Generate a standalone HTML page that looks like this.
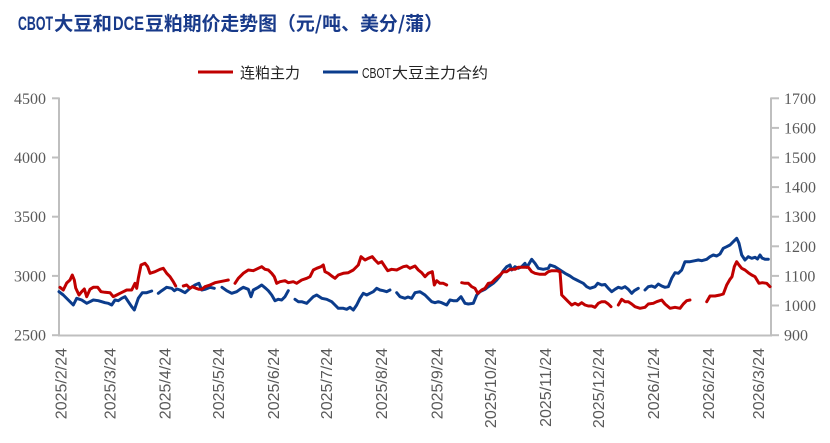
<!DOCTYPE html>
<html><head><meta charset="utf-8"><style>
html,body{margin:0;padding:0;background:#fff;}
svg{display:block;}
</style></head><body>
<svg width="830" height="443" viewBox="0 0 830 443" xmlns="http://www.w3.org/2000/svg">
<rect width="830" height="443" fill="#fff"/>
<!-- Title -->
<g fill="#183a8a" font-size="19">
<text x="18" y="30" font-family="Liberation Sans, sans-serif" font-weight="bold" textLength="35" lengthAdjust="spacingAndGlyphs">CBOT</text>
<text x="54" y="30" font-family="Liberation Sans, Noto Sans CJK SC, sans-serif" font-weight="bold" textLength="58" lengthAdjust="spacingAndGlyphs">大豆和</text>
<text x="113" y="30" font-family="Liberation Sans, sans-serif" font-weight="bold" textLength="31" lengthAdjust="spacingAndGlyphs">DCE</text>
<text x="145" y="30" font-family="Liberation Sans, Noto Sans CJK SC, sans-serif" font-weight="bold" textLength="132" lengthAdjust="spacingAndGlyphs">豆粕期价走势图</text>
<text x="277" y="30" font-family="Noto Sans CJK SC, sans-serif" font-weight="bold" textLength="166" lengthAdjust="spacingAndGlyphs">（元/吨、美分/蒲）</text>
</g>
<!-- Legend -->
<line x1="198" y1="72" x2="233" y2="72" stroke="#c00000" stroke-width="3"/>
<text x="240" y="78" font-size="15" fill="#222" font-family="Liberation Sans, Noto Sans CJK SC, sans-serif" textLength="60" lengthAdjust="spacingAndGlyphs">连粕主力</text>
<line x1="323" y1="72" x2="358" y2="72" stroke="#0b3c8c" stroke-width="3"/>
<text x="362" y="78" font-size="15" fill="#222" font-family="Liberation Sans, sans-serif" textLength="29" lengthAdjust="spacingAndGlyphs">CBOT</text>
<text x="392" y="78" font-size="15" fill="#222" font-family="Liberation Sans, Noto Sans CJK SC, sans-serif" textLength="96" lengthAdjust="spacingAndGlyphs">大豆主力合约</text>
<!-- Axes -->
<g stroke="#bfbfbf" stroke-width="2" fill="none">
<line x1="59" y1="97.5" x2="59" y2="336"/>
<line x1="771" y1="97.5" x2="771" y2="336"/>
<line x1="58" y1="335.5" x2="772" y2="335.5"/>
<line x1="52" y1="98.3" x2="59" y2="98.3"/>
<line x1="52" y1="157.5" x2="59" y2="157.5"/>
<line x1="52" y1="216.7" x2="59" y2="216.7"/>
<line x1="52" y1="275.9" x2="59" y2="275.9"/>
<line x1="52" y1="335.2" x2="59" y2="335.2"/>
<line x1="771" y1="98.3" x2="779" y2="98.3"/>
<line x1="771" y1="127.9" x2="779" y2="127.9"/>
<line x1="771" y1="157.5" x2="779" y2="157.5"/>
<line x1="771" y1="187.1" x2="779" y2="187.1"/>
<line x1="771" y1="216.7" x2="779" y2="216.7"/>
<line x1="771" y1="246.3" x2="779" y2="246.3"/>
<line x1="771" y1="275.9" x2="779" y2="275.9"/>
<line x1="771" y1="305.5" x2="779" y2="305.5"/>
<line x1="771" y1="335.2" x2="779" y2="335.2"/>
</g>
<!-- Left labels -->
<g font-family="Liberation Serif, serif" font-size="16" fill="#595959" text-anchor="end">
<text x="46" y="103.8">4500</text>
<text x="46" y="163">4000</text>
<text x="46" y="222.2">3500</text>
<text x="46" y="281.4">3000</text>
<text x="46" y="340.7">2500</text>
</g>
<g font-family="Liberation Serif, serif" font-size="16" fill="#595959">
<text x="784" y="103.8">1700</text>
<text x="784" y="133.4">1600</text>
<text x="784" y="163">1500</text>
<text x="784" y="192.6">1400</text>
<text x="784" y="222.2">1300</text>
<text x="784" y="251.8">1200</text>
<text x="784" y="281.4">1100</text>
<text x="784" y="311">1000</text>
<text x="784" y="340.7">900</text>
</g>
<!-- X labels -->
<g font-family="Liberation Sans, sans-serif" font-size="16" fill="#595959" text-anchor="end">
<text transform="translate(66.5,348) rotate(-90)">2025/2/24</text>
<text transform="translate(115.7,348) rotate(-90)">2025/3/24</text>
<text transform="translate(170.7,348) rotate(-90)">2025/4/24</text>
<text transform="translate(224,348) rotate(-90)">2025/5/24</text>
<text transform="translate(279,348) rotate(-90)">2025/6/24</text>
<text transform="translate(332,348) rotate(-90)">2025/7/24</text>
<text transform="translate(387,348) rotate(-90)">2025/8/24</text>
<text transform="translate(442.5,348) rotate(-90)">2025/9/24</text>
<text transform="translate(496,348) rotate(-90)">2025/10/24</text>
<text transform="translate(551,348) rotate(-90)">2025/11/24</text>
<text transform="translate(604,348) rotate(-90)">2025/12/24</text>
<text transform="translate(659,348) rotate(-90)">2026/1/24</text>
<text transform="translate(714,348) rotate(-90)">2026/2/24</text>
<text transform="translate(764,348) rotate(-90)">2026/3/24</text>
</g>
<!-- Blue series -->
<g fill="none" stroke="#0b3c8c" stroke-width="3" stroke-linejoin="round" stroke-linecap="round">
<polyline points="59,291.7 63.3,295 68.3,300 73.3,305 76.7,298.3 81.7,300 86.7,303.3 90,301.7 93.3,300 98.3,300.7 101.7,301.7 105,302.7 108.3,303.3 111.7,305 115,300 118.3,300.7 121.7,298.3 125,296.7 128.3,301.7 131.7,306.7 134.3,310 138.3,298.3 142.3,292.7 146.7,292.7 151.7,291"/>
<polyline points="158.3,293.3 161.7,290.7 166.7,287.3 171.7,288.3 174.3,290.7 177,289 180,290 185,292.7 190,288.3 195,285 199,283.3 201.7,290 205,289.3 210,287.3 214.3,288.3"/>
<polyline points="222,287.3 226.7,290.7 231.7,293.3 236.7,291.7 240,289.3 243.3,287.3 248.3,289.3 251,296.7 253.3,290 258.3,287.3 261.7,285 265.7,288.3 268.3,290.7 271.7,295 275,300.7 278.3,299.3 281.7,300 285,296.7 288.3,290.7"/>
<polyline points="295,299.3 298.3,301.7 301.7,301.7 306.7,303.3 310,300 313.3,296.7 316.7,295 321.7,298.3 326.7,299.3 331.7,301.7 335,305 338.3,308.3 343.3,308.3 346.7,309.3 350,307.3 353.3,310 356.7,305 360,298.3 363.3,293.3 366.7,295 370,293.3 373.3,291.7 376.7,288.3 380,290 383.3,290.7 386.7,291.7 390,290"/>
<polyline points="396.7,292.7 400,296.7 405,298.3 408,297 411.7,298.3 415,292.7 420,291.7 425,295 428.3,298.3 431.7,301.7 435,302.7 438.3,301.7 441.7,302.7 446.7,305 450,300 453.3,300.7 457,300.7 461,296.7 465,303.3 468.3,304 473.3,303.3 476.7,295 480,291.7 485,289.3 488.3,286.7 493.3,283.3 496.7,280 500,276 503.3,270.7 506.7,266.7 510,265 511.7,270 515,266.7 518.3,268.3 521.7,266.7 525,263.3 526.7,267.3 528.3,265 531.7,259.3 535,263.3 538.3,268.3 543.3,269.3 548.3,268.3 550,265 555,266.7 560,270 565,273.3 570,276 573.3,278.3 576.7,280 580,281.7 583.3,283.3 586.7,286.7 590,288.3 595,286.7 597.7,283.3 601.7,285 605,284.5 608.3,288.3 611.7,291.7 615,289.3 618.3,287.3 621.7,288.3 625,286.7 628.3,289.3 631.7,293.3 634.3,290.7 638.3,288.3"/>
<polyline points="645,290 648.3,286.7 651.7,286 655,287.3 658.3,284 661.7,286 665,287.3 668.3,286.7 671.7,278.3 675,272.7 678.3,273.3 681.7,270 685,261.7 690,261.7 695,260.7 698.3,260 701.7,260.7 706.7,259.3 710,256.7 713.3,255 716.7,256 720,254 723.3,248.3 726.7,246.7 730,245 733.3,241.7 736.7,238.3 739,243.3 741.7,255 745,260 748.3,256.7 751.7,258.3 755,257.3 757.5,259 760,255 762,258 765,259.3 768.3,259.3"/>
</g>
<!-- Red series -->
<g fill="none" stroke="#c00000" stroke-width="3" stroke-linejoin="round" stroke-linecap="round">
<polyline points="60,287.3 63.3,290 66.7,283 70,280 72.3,275 74.3,280 75.7,288 79,295 81.7,291.7 84.3,289 86.7,296.7 90,289.3 93.3,287.3 97.7,287.3 101,291.7 105,292.3 110,292.7 113.3,296.7 116.7,295 120,293.3 123.3,291.7 126.7,290 131.7,290 135,283.3 136.7,288.3 138.3,278.3 141,265 145,263.3 147.7,266.7 150,273.3 155,271.7 160,269.3 163.3,268.3 166.7,273.3 170,276.7 173.3,281.7 175.7,286"/>
<polyline points="183.3,286 186.7,285 190,288.3 192.3,286.7 196,288.3 199,289.3 201.7,289.3 205,286.7 210,285 215,282.7 220,281.7 225,280.7 228.3,280"/>
<polyline points="235,283.3 238.3,278.3 243.3,273.3 248.3,270 253.3,270.7 258.3,268.3 261.7,266.7 265,269.3 268.3,270 271.7,273.3 274.3,276.7 276.7,283.3 280,281.7 285,280.7 288.3,282.7 293.3,281.7 296.7,283.3 301.7,280 306.7,278.3 310,276.7 313.3,270 316.7,268.3 321,266.7 323.3,265 325,271.7 328.3,273.3 331.7,276 335,278.3 338.3,275 343.3,273.3 348.3,272.7 353.3,270 358.3,265 361,256.7 365,260 368.3,258.3 372.3,256.7 375,260 378.3,263.3 381.7,261.7 385,266.7 387.7,270.7 391.7,269.3 396.7,270 400,268.3 403.3,266.7 406.7,266 410,268.3 415,266 418.3,270 421.7,272.7 425,276.7 428.3,273.3 432.3,271.7 434.3,285 436.7,280.7 440,283.3 443.3,283.3 446.7,285"/>
<polyline points="461.7,282.7 465,283.3 468.3,283.3 471.7,286.7 475,288.3 477.7,293.3 481.7,290 485,288.3 488.3,283.3 491.7,282.7 495,279.3 500,275 503.3,271.7 506.7,271.7 510,269.3 515,269.3 518.3,267.3 523.3,267.3 528.3,267.3 531.7,271.7 535,273.3 540,274.3 545,274.3 548.3,271.7 551.7,270.7 556.7,270.7 560,271.7 561.7,295 565,298.3 568.3,301.7 571.7,305 575,303.3 578.3,305 581.7,302.7 585,305 588.3,306 591.7,306 595,307.3 598.3,303.3 601.7,301.7 605,301.7 608.3,304 611,306.7"/>
<polyline points="618.3,305 621.7,299.3 625,301.7 628.3,301.7 631.7,304 635,306.7 640,308.3 645,307.3 648.3,304 653.3,303.3 656.7,301.7 661.7,300 665,304 670,308.3 675,307.3 680,308.3 683.3,304 686.7,300.7 690,300"/>
<polyline points="706.7,301.7 710,296 715,296 720,295 723.3,294 726.7,285 730,279.3 732,276.7 734.3,266.7 736.7,261.7 739,265 741.7,268.3 745,270 748.3,272.7 751.7,275 755,276.7 759,283.3 762.3,282.7 766.7,283.3 770,286.7"/>
</g>
</svg>
</body></html>
